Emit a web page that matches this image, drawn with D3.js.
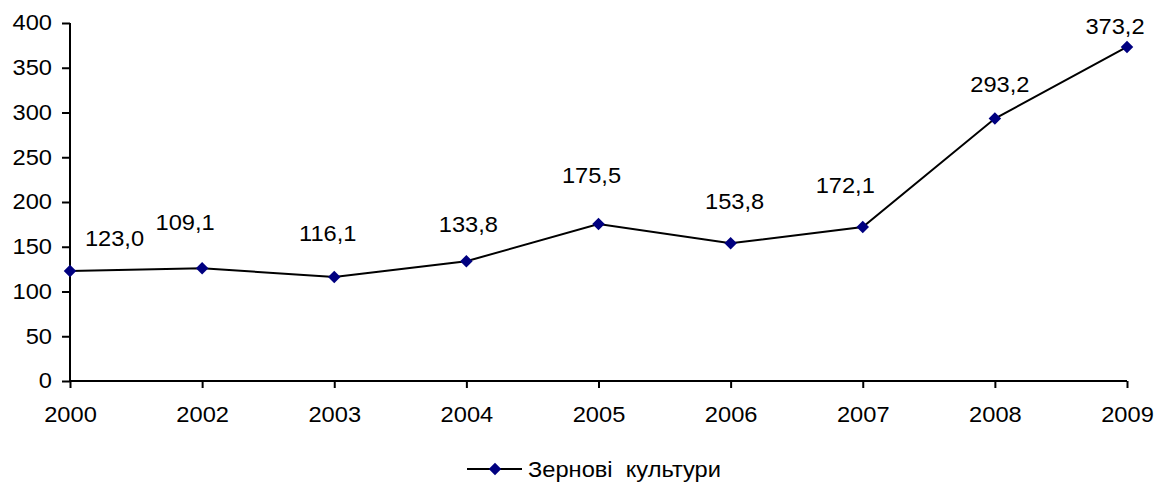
<!DOCTYPE html>
<html><head><meta charset="utf-8">
<script src="https://cdn.jsdelivr.net/npm/d3@7"></script>
<style>body{margin:0;background:#fff}text{font-family:"Liberation Sans",Arial,sans-serif;fill:#000}</style>
</head><body><svg id="c" width="1156" height="484"></svg>
<script>
const categories = ["2000","2002","2003","2004","2005","2006","2007","2008","2009"];
const values = [123.0, 126.0, 116.1, 133.8, 175.5, 153.8, 172.1, 293.2, 373.2];
const labels = ["123,0","109,1","116,1","133,8","175,5","153,8","172,1","293,2","373,2"];
const yTicks = [0,50,100,150,200,250,300,350,400];
const seriesName = "Зернові  культури";
// label placement offsets (layout only)
const labelDx = [44.5, -17, -6.5, 2, -7, 4, -17.5, 5, -12];
const labelDy = [-32.5, -45.5, -43.5, -36.5, -49, -42.5, -41.5, -34, -21];

const svg = d3.select("#c");
const fs = 21.5, sx = 1.1;
const x = d3.scalePoint().domain(categories).range([70,1127]);
const y = d3.scaleLinear().domain([0,400]).range([381,23]);

const gx = svg.append("g").attr("transform","translate(0,381)")
  .call(d3.axisBottom(x).tickSize(7).tickPadding(19));
const gy = svg.append("g").attr("transform","translate(70,0)")
  .call(d3.axisLeft(y).tickValues(yTicks).tickSize(8).tickPadding(10).tickFormat(d3.format("d")));
[gx,gy].forEach(g=>{
  g.selectAll("path").attr("stroke","#000").attr("stroke-width",2);
  g.selectAll("line").attr("stroke","#000").attr("stroke-width",2);
  g.selectAll("text").attr("font-size",fs).attr("font-family","Liberation Sans, Arial, sans-serif").attr("fill","#000");
});
gx.select(".domain").attr("d","M70,0H1127");
gy.select(".domain").attr("d","M0,381V23");
gx.selectAll("text").attr("y",0).attr("dy","0.71em").attr("transform",`translate(0,26) scale(${sx},1)`);
gy.selectAll("text").attr("x",0).attr("transform",`translate(-18,0) scale(${sx},1)`);

const line = d3.line().x((d,i)=>x(categories[i])).y(d=>y(d));
svg.append("path").datum(values).attr("d",line).attr("fill","none").attr("stroke","#000").attr("stroke-width",2);

const diamond = d3.symbol().type(d3.symbolDiamond2).size(100);
svg.selectAll(".m").data(values).join("path")
  .attr("transform",(d,i)=>`translate(${x(categories[i])},${y(d)})`)
  .attr("d",diamond).attr("fill","#000080");

svg.selectAll(".lbl").data(values).join("text")
  .attr("transform",(d,i)=>`translate(${x(categories[i])+labelDx[i]},${y(d)+labelDy[i]}) scale(${sx},1)`)
  .attr("text-anchor","middle").attr("dy","0.36em").attr("font-size",fs)
  .text((d,i)=>labels[i]);

const lg = svg.append("g");
lg.append("line").attr("x1",467).attr("x2",522).attr("y1",469).attr("y2",469).attr("stroke","#000").attr("stroke-width",2);
lg.append("path").attr("transform","translate(495,469)").attr("d",diamond).attr("fill","#000080");
lg.append("text").attr("transform",`translate(528,469) scale(${sx},1)`).attr("dy","0.36em").attr("font-size",fs).attr("xml:space","preserve").style("white-space","pre").text(seriesName);
</script></body></html>
